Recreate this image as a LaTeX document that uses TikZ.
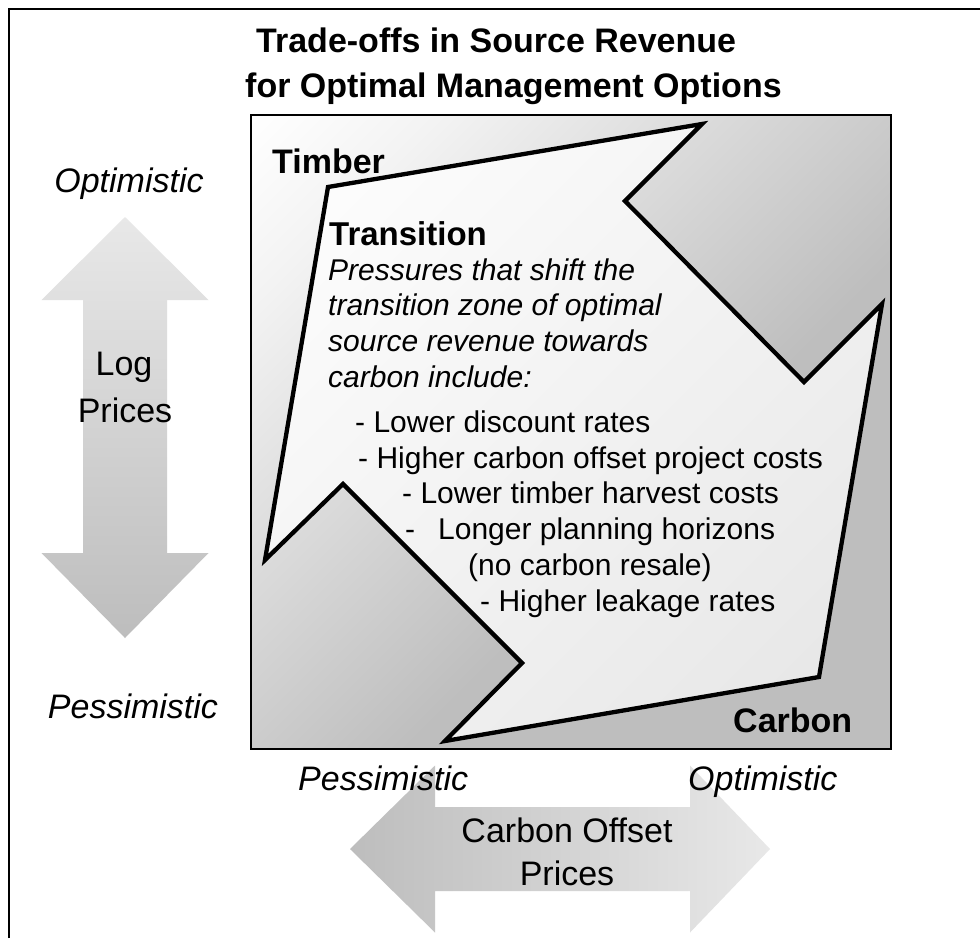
\documentclass[tikz,border=0pt]{standalone}
\usepackage{fontspec}
\setmainfont{Liberation Sans}
\definecolor{sqA}{HTML}{F3F3F3}
\definecolor{sqB}{HTML}{BEBEBE}
\definecolor{zoneB}{HTML}{E5E5E5}
\definecolor{arrLight}{HTML}{E8E8E8}
\definecolor{arrDark}{HTML}{BDBDBD}
% diagonal gradients (rotated by -45 degrees when used)
\pgfdeclarehorizontalshading{squaregrad}{100bp}{color(0bp)=(white); color(14.6bp)=(white); color(25bp)=(sqA); color(58.5bp)=(sqB); color(100bp)=(sqB)}
\pgfdeclarehorizontalshading{zonegrad}{100bp}{color(0bp)=(white); color(14.6bp)=(white); color(85.4bp)=(zoneB); color(100bp)=(zoneB)}
\begin{document}
\begin{tikzpicture}[x=1pt,y=-1pt,
  frameline/.style={line width=2.7pt},
  titletext/.style={font=\fontsize{34}{40}\selectfont\bfseries, inner sep=0pt, anchor=base west},
  cornerlabel/.style={font=\fontsize{34}{40}\selectfont\bfseries, inner sep=0pt, anchor=base west},
  headtext/.style={font=\fontsize{33}{40}\selectfont\bfseries, inner sep=0pt, anchor=base west},
  desctext/.style={font=\fontsize{30}{36}\selectfont\itshape, inner sep=0pt, anchor=base west},
  itemtext/.style={font=\fontsize{30}{36}\selectfont, inner sep=0pt, anchor=base west},
  axislabel/.style={font=\fontsize{34}{40}\selectfont\itshape, inner sep=0pt},
  arrowlabel/.style={font=\fontsize{34}{40}\selectfont, inner sep=0pt, anchor=base},
  zone/.style={shading=zonegrad, shading angle=-45, draw=black, line width=4.3pt, line join=miter},
  field/.style={shading=squaregrad, shading angle=-45, draw=black, line width=2.6pt,
    minimum width=640pt, minimum height=634pt, inner sep=0pt}
]
\useasboundingbox (0,0) rectangle (980,938);
\fill[white] (0,0) rectangle (980,938);

% outer frame (top and left edges)
\draw[frameline] (9,938) -- (9,9) -- (980,9);

% title
\node[titletext] (title1) at (256,52) {Trade-offs in Source Revenue};
\node[titletext] (title2) at (245,97) {for Optimal Management Options};

% vertical double arrow: log prices
\shade[top color=arrLight, bottom color=arrDark]
  (125,217) -- (208.5,300) -- (167,300) -- (167,553) -- (208.5,553) -- (125,638)
  -- (41.5,553) -- (83,553) -- (83,300) -- (41.5,300) -- cycle;

% horizontal double arrow: carbon offset prices
\shade[left color=arrDark, right color=arrLight]
  (350,849) -- (435,765.5) -- (435,807) -- (690,807) -- (690,765.5) -- (770,849)
  -- (690,932.5) -- (690,891) -- (435,891) -- (435,932.5) -- cycle;

% revenue field
\node[field] (field) at (571,432) {};

% transition zone: two interlocking arrows
\path[zone] (328,187) -- (702,124) -- (625,201) -- (804,382) -- (882,304)
  -- (819,677) -- (445,741) -- (522,663) -- (343,484) -- (265,560) -- cycle;

% corner labels
\node[cornerlabel] (timber) at (272,173) {Timber};
\node[cornerlabel] (carbon) at (733,732) {Carbon};

% transition description
\node[headtext] (trans) at (329,245) {Transition};
\node[desctext] (d1) at (328,280) {Pressures that shift the};
\node[desctext] (d2) at (328,315) {transition zone of optimal};
\node[desctext] (d3) at (328,351) {source revenue towards};
\node[desctext] (d4) at (328,387) {carbon include:};

\node[itemtext] (i1) at (355,432) {- Lower discount rates};
\node[itemtext] (i2) at (358,468) {- Higher carbon offset project costs};
\node[itemtext] (i3) at (402,503) {- Lower timber harvest costs};
\node[itemtext] (i4) at (405,539) {-\hspace{23pt}Longer planning horizons};
\node[itemtext] (i5) at (468,575) {(no carbon resale)};
\node[itemtext] (i6) at (480,611) {- Higher leakage rates};

% axis end labels
\node[axislabel, anchor=base] (logopt) at (129,192) {Optimistic};
\node[axislabel, anchor=base] (logpes) at (133,718) {Pessimistic};
\node[axislabel, anchor=base west] (copes) at (298,790) {Pessimistic};
\node[axislabel, anchor=base west] (coopt) at (688,790) {Optimistic};

% arrow labels
\node[arrowlabel] (log1) at (124,375) {Log};
\node[arrowlabel] (log2) at (125,422) {Prices};
\node[arrowlabel] (co1) at (567,842) {Carbon Offset};
\node[arrowlabel] (co2) at (567,885) {Prices};
\end{tikzpicture}
\end{document}
